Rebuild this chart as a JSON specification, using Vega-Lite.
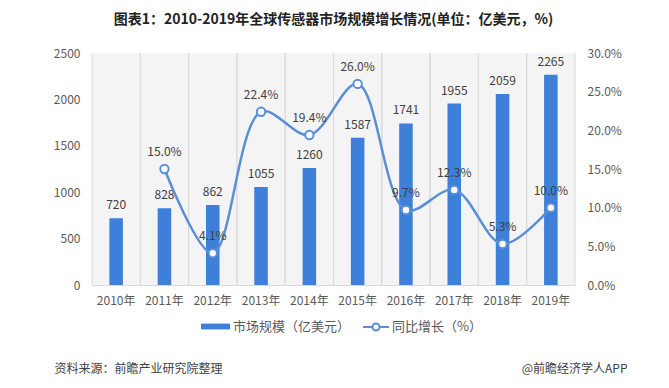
{
  "$schema": "https://vega.github.io/schema/vega-lite/v6.json",
  "width": 483,
  "height": 232,
  "autosize": {"type": "none"},
  "padding": {"left": 92, "top": 53, "right": 94, "bottom": 103},
  "background": "white",
  "title": {
    "text": "图表1：2010-2019年全球传感器市场规模增长情况(单位：亿美元，%)",
    "fontSize": 14,
    "fontWeight": "bold",
    "color": "#222222",
    "anchor": "middle",
    "offset": 20,
    "font": "Noto Sans CJK SC"
  },
  "config": {
    "font": "Noto Sans CJK SC",
    "view": {"fill": "#f4f4f4", "stroke": null},
    "axis": {"labelColor": "#595959", "labelFontSize": 12, "domain": false, "ticks": false, "grid": false, "labelFont": "Noto Sans CJK SC"},
    "legend": {
      "labelFont": "Noto Sans CJK SC",
      "labelFontSize": 13,
      "labelColor": "#595959"
    }
  },
  "data": {
    "values": [
      {"year": "2010年", "size": 720, "growth": null},
      {"year": "2011年", "size": 828, "growth": 0.150},
      {"year": "2012年", "size": 862, "growth": 0.041},
      {"year": "2013年", "size": 1055, "growth": 0.224},
      {"year": "2014年", "size": 1260, "growth": 0.194},
      {"year": "2015年", "size": 1587, "growth": 0.260},
      {"year": "2016年", "size": 1741, "growth": 0.097},
      {"year": "2017年", "size": 1955, "growth": 0.123},
      {"year": "2018年", "size": 2059, "growth": 0.053},
      {"year": "2019年", "size": 2265, "growth": 0.100}
    ]
  },
  "encoding": {
    "x": {
      "field": "year",
      "type": "nominal",
      "sort": null,
      "scale": {"paddingInner": 0, "paddingOuter": 0},
      "axis": {
        "title": "资料来源：前瞻产业研究院整理",
        "labelPadding": 10,
        "labelAngle": 0,
        "domain": true,
        "domainColor": "#d9d9d9",
        "titleAnchor": "start",
        "titleAlign": "left",
        "titleX": -38,
        "titleY": 83,
        "titleBaseline": "middle",
        "titleFontSize": 12,
        "titleFontWeight": "normal",
        "titleColor": "#404040",
        "titleFont": "Noto Sans CJK SC"
      }
    }
  },
  "layer": [
    {
      "mark": {"type": "rule", "color": "#dadada", "strokeWidth": 1},
      "encoding": {"x": {"field": "year", "type": "nominal", "sort": null, "bandPosition": 0}}
    },
    {
      "mark": {"type": "rule", "color": "#dadada", "strokeWidth": 1},
      "encoding": {"x": {"field": "year", "type": "nominal", "sort": null, "bandPosition": 1}}
    },
    {
      "encoding": {
        "y": {
          "field": "size",
          "type": "quantitative",
          "scale": {"domain": [0, 2500]},
          "axis": {"orient": "left", "format": "d", "values": [0, 500, 1000, 1500, 2000, 2500], "labelPadding": 12, "title": null}
        }
      },
      "layer": [
        {
          "mark": {"type": "bar", "width": {"band": 0.28}},
          "encoding": {
            "color": {
              "datum": "市场规模（亿美元）",
              "scale": {"range": ["#3d7fd9"]},
              "legend": {
                "orient": "none",
                "legendX": 108,
                "legendY": 258,
                "title": null,
                "symbolType": "M-1,-0.2H1V0.2H-1Z",
                "symbolSize": 841,
                "labelOffset": 2
              }
            }
          }
        },
        {
          "mark": {"type": "text", "dy": -6, "baseline": "bottom", "fontSize": 12, "color": "#404040"},
          "encoding": {"text": {"field": "size", "type": "quantitative"}}
        }
      ]
    },
    {
      "transform": [{"filter": "datum.growth != null"}],
      "encoding": {
        "y": {
          "field": "growth",
          "type": "quantitative",
          "scale": {"domain": [0, 0.3]},
          "axis": {
            "orient": "right",
            "format": ".1%",
            "values": [0, 0.05, 0.1, 0.15, 0.2, 0.25, 0.3],
            "labelPadding": 12,
            "title": "@前瞻经济学人APP",
            "titleAngle": 0,
            "titleAlign": "right",
            "titleBaseline": "middle",
            "titleX": 52,
            "titleY": 315,
            "titleFontSize": 12,
            "titleFontWeight": "normal",
            "titleColor": "#404040",
            "titleFont": "Noto Sans CJK SC"
          }
        }
      },
      "layer": [
        {
          "mark": {
            "type": "line",
            "interpolate": "catmull-rom",
            "strokeWidth": 2.5,
            "point": {"filled": true, "fill": "white", "size": 70, "strokeWidth": 2}
          },
          "encoding": {
            "stroke": {
              "datum": "同比增长（%）",
              "scale": {"range": ["#5a8fd8"]},
              "legend": {
                "orient": "none",
                "legendX": 270,
                "legendY": 260,
                "title": null,
                "symbolType": "M-1,0H-0.27M0.27,0H1M0.27,0A0.27,0.27,0,1,1,-0.27,0A0.27,0.27,0,1,1,0.27,0Z",
                "symbolSize": 676,
                "symbolStrokeWidth": 2,
                "symbolFillColor": "white",
                "labelOffset": 2
              }
            }
          }
        },
        {
          "mark": {"type": "text", "dy": -10, "baseline": "bottom", "fontSize": 12, "color": "#404040"},
          "encoding": {"text": {"field": "growth", "type": "quantitative", "format": ".1%"}}
        }
      ]
    }
  ],
  "resolve": {"scale": {"y": "independent"}}
}
